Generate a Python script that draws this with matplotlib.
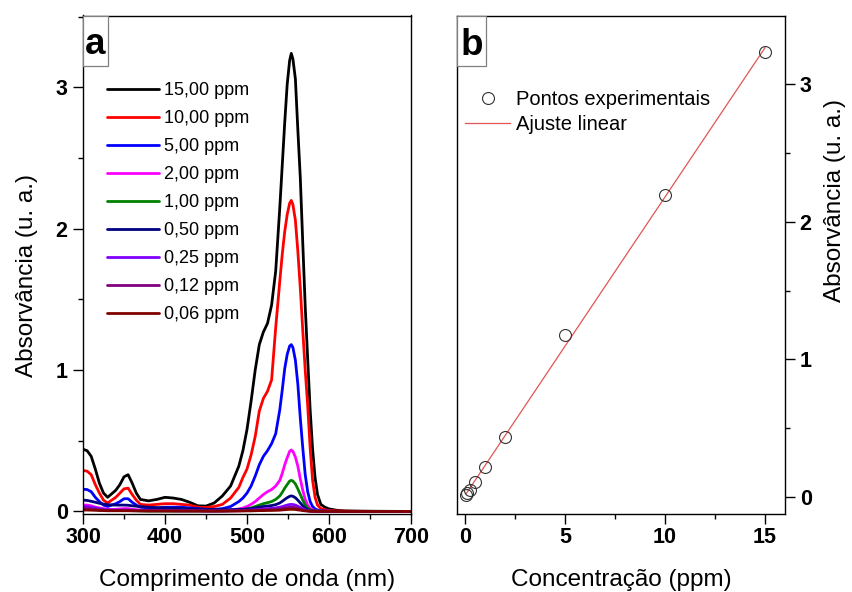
import numpy as np
import matplotlib
matplotlib.use("Agg")
import matplotlib.pyplot as plt
from matplotlib.patches import Rectangle
from matplotlib.ticker import MultipleLocator

plt.rcParams['font.family'] = ['Liberation Sans', 'DejaVu Sans']

# ---------------- data (panel a) ----------------
wavelength = [300, 305, 310, 315, 320, 325, 330, 340, 345, 350, 355, 360, 365, 370,
              380, 390, 400, 410, 420, 430, 440, 450, 460, 470, 480, 490, 495, 500,
              505, 510, 515, 520, 525, 530, 535,
              540, 543, 546, 549, 552, 554, 556, 559, 562, 565, 568, 571, 574, 577, 580, 583, 586, 590,
              595, 600, 610, 620, 640, 670, 700]

abs_15 = [0.44, 0.43, 0.39, 0.30, 0.20, 0.13, 0.10, 0.15, 0.19, 0.245, 0.26, 0.20, 0.13, 0.085,
          0.075, 0.085, 0.10, 0.095, 0.085, 0.065, 0.04, 0.038, 0.06, 0.11, 0.18, 0.32, 0.43, 0.58,
          0.78, 1.00, 1.18, 1.27, 1.33, 1.46, 1.70,
          2.15, 2.45, 2.75, 3.02, 3.19, 3.24, 3.20, 3.06, 2.70, 2.36, 1.90, 1.45, 1.08, 0.72, 0.44, 0.24, 0.12, 0.05,
          0.03, 0.018, 0.008, 0.004, 0.002, 0.001, 0.0]
abs_10 = [0.29, 0.285, 0.26, 0.19, 0.13, 0.08, 0.06, 0.10, 0.13, 0.16, 0.165, 0.12, 0.08, 0.05,
          0.045, 0.05, 0.055, 0.055, 0.05, 0.045, 0.03, 0.028, 0.035, 0.05, 0.095, 0.17, 0.24, 0.30,
          0.40, 0.53, 0.71, 0.80, 0.85, 0.93, 1.30,
          1.63, 1.82, 1.98, 2.10, 2.18, 2.20, 2.17, 2.06, 1.84, 1.58, 1.28, 1.00, 0.75, 0.45, 0.22, 0.10, 0.045, 0.02,
          0.012, 0.008, 0.004, 0.002, 0.001, 0.0, 0.0]
abs_5 = [0.157, 0.155, 0.14, 0.10, 0.07, 0.045, 0.035, 0.055, 0.07, 0.09, 0.09, 0.065, 0.045, 0.03,
         0.025, 0.025, 0.03, 0.03, 0.03, 0.025, 0.02, 0.015, 0.015, 0.02, 0.035, 0.07, 0.095, 0.13,
         0.18, 0.25, 0.33, 0.39, 0.43, 0.48, 0.55,
         0.72, 0.86, 1.01, 1.11, 1.17, 1.18, 1.16, 1.07, 0.90, 0.66, 0.45, 0.26, 0.14, 0.07, 0.035, 0.018, 0.01, 0.005,
         0.003, 0.002, 0.001, 0.0, 0.0, 0.0, 0.0]
abs_2 = [0.045, 0.045, 0.04, 0.03, 0.025, 0.02, 0.015, 0.015, 0.018, 0.02, 0.02, 0.015, 0.012, 0.01,
         0.008, 0.008, 0.008, 0.008, 0.008, 0.007, 0.006, 0.005, 0.005, 0.007, 0.01, 0.018, 0.024, 0.035,
         0.05, 0.07, 0.095, 0.12, 0.14, 0.155, 0.18,
         0.22, 0.27, 0.33, 0.38, 0.425, 0.435, 0.425, 0.385, 0.32, 0.23, 0.15, 0.085, 0.045, 0.022, 0.012, 0.006, 0.003, 0.002,
         0.001, 0.001, 0.0, 0.0, 0.0, 0.0, 0.0]
abs_1 = [0.02, 0.02, 0.018, 0.014, 0.01, 0.008, 0.006, 0.006, 0.007, 0.008, 0.008, 0.006, 0.005, 0.004,
         0.003, 0.003, 0.003, 0.003, 0.003, 0.003, 0.003, 0.003, 0.003, 0.004, 0.006, 0.01, 0.013, 0.018,
         0.025, 0.035, 0.045, 0.055, 0.062, 0.07, 0.085,
         0.11, 0.135, 0.165, 0.19, 0.215, 0.22, 0.215, 0.195, 0.16, 0.12, 0.08, 0.045, 0.024, 0.012, 0.006, 0.003, 0.002, 0.001,
         0.001, 0.0, 0.0, 0.0, 0.0, 0.0, 0.0]
abs_050 = [0.08, 0.078, 0.072, 0.065, 0.058, 0.052, 0.048, 0.045, 0.045, 0.045, 0.044, 0.04, 0.037, 0.034,
           0.03, 0.027, 0.025, 0.023, 0.021, 0.019, 0.017, 0.015, 0.014, 0.013, 0.013, 0.014, 0.015, 0.017,
           0.02, 0.025, 0.03, 0.035, 0.038, 0.042, 0.048,
           0.06, 0.072, 0.085, 0.097, 0.107, 0.11, 0.107, 0.097, 0.08, 0.06, 0.04, 0.024, 0.013, 0.007, 0.004, 0.002, 0.001, 0.001,
           0.001, 0.0, 0.0, 0.0, 0.0, 0.0, 0.0]
abs_025 = [0.035, 0.034, 0.03, 0.024, 0.018, 0.014, 0.011, 0.01, 0.01, 0.01, 0.01, 0.009, 0.008, 0.007,
           0.006, 0.006, 0.006, 0.006, 0.005, 0.005, 0.005, 0.004, 0.004, 0.004, 0.005, 0.006, 0.007, 0.008,
           0.01, 0.012, 0.015, 0.018, 0.02, 0.022, 0.025,
           0.03, 0.034, 0.04, 0.045, 0.049, 0.05, 0.049, 0.045, 0.037, 0.028, 0.019, 0.011, 0.006, 0.003, 0.002, 0.001, 0.0, 0.0,
           0.0, 0.0, 0.0, 0.0, 0.0, 0.0, 0.0]
abs_012 = [0.02, 0.02, 0.018, 0.015, 0.012, 0.01, 0.008, 0.007, 0.007, 0.007, 0.007, 0.006, 0.006, 0.005,
           0.005, 0.005, 0.005, 0.004, 0.004, 0.004, 0.004, 0.003, 0.003, 0.003, 0.004, 0.005, 0.005, 0.006,
           0.007, 0.008, 0.01, 0.011, 0.012, 0.013, 0.015,
           0.018, 0.021, 0.024, 0.027, 0.029, 0.03, 0.029, 0.027, 0.022, 0.017, 0.011, 0.007, 0.004, 0.002, 0.001, 0.001, 0.0, 0.0,
           0.0, 0.0, 0.0, 0.0, 0.0, 0.0, 0.0]
abs_006 = [0.01, 0.01, 0.009, 0.008, 0.007, 0.006, 0.005, 0.005, 0.005, 0.005, 0.005, 0.004, 0.004, 0.004,
           0.003, 0.003, 0.003, 0.003, 0.003, 0.003, 0.003, 0.003, 0.003, 0.003, 0.003, 0.003, 0.004, 0.004,
           0.004, 0.005, 0.006, 0.006, 0.007, 0.007, 0.008,
           0.009, 0.011, 0.012, 0.014, 0.015, 0.015, 0.015, 0.014, 0.011, 0.009, 0.006, 0.004, 0.003, 0.002, 0.002, 0.001, 0.001, 0.001,
           0.001, 0.001, 0.0, 0.0, 0.0, 0.0, 0.0]

series_labels = ['15,00 ppm', '10,00 ppm', '5,00 ppm', '2,00 ppm', '1,00 ppm',
                 '0,50 ppm', '0,25 ppm', '0,12 ppm', '0,06 ppm']
series_values = [abs_15, abs_10, abs_5, abs_2, abs_1, abs_050, abs_025, abs_012, abs_006]
series_colors = ['#000000', '#ff0000', '#0000ff', '#ff00ff', '#008000',
                 '#000080', '#8000ff', '#800080', '#800000']

# ---------------- data (panel b) ----------------
concentration = [0.06, 0.12, 0.25, 0.5, 1, 2, 5, 10, 15]
peak_absorbance = [0.015, 0.03, 0.05, 0.11, 0.22, 0.435, 1.18, 2.19, 3.23]

xticks_a = [300, 400, 500, 600, 700]
yticks_a = [0, 1, 2, 3]
xticks_b = [0, 5, 10, 15]
yticks_b = [0, 1, 2, 3]

# ---------------- figure ----------------
fig = plt.figure(figsize=(8.52, 5.92), dpi=100)
W, H = 852, 592
ax1 = fig.add_axes([83 / W, (H - 514) / H, 328 / W, 498.5 / H])
ax2 = fig.add_axes([457 / W, (H - 514) / H, 328 / W, 498.5 / H])

tick_fs = 15.5
label_fs = 17.5

for vals, lab, col in zip(series_values, series_labels, series_colors):
    ax1.plot(wavelength, vals, color=col, lw=2.0, label=lab,
             solid_joinstyle='round', solid_capstyle='round')

ax1.set_xlim(300, 700)
ax1.set_ylim(-0.018, 3.508)
ax1.set_xticks(xticks_a, [str(t) for t in xticks_a], fontweight='bold', fontsize=tick_fs)
ax1.set_yticks(yticks_a, [str(t) for t in yticks_a], fontweight='bold', fontsize=tick_fs)
ax1.xaxis.set_minor_locator(MultipleLocator(50))
ax1.yaxis.set_minor_locator(MultipleLocator(0.5))
ax1.tick_params(which='both', direction='out', width=1.0, top=False, right=False)
ax1.tick_params(which='major', length=7)
ax1.tick_params(which='minor', length=3.6)
ax1.tick_params(axis='y', pad=4)
ax1.tick_params(axis='x', pad=2.5)
ax1.set_xlabel('Comprimento de onda (nm)', fontsize=label_fs)
ax1.set_ylabel('Absorvância (u. a.)', fontsize=label_fs)
ax1.xaxis.set_label_coords(0.5, -0.110)
ax1.yaxis.set_label_coords(-0.136, 0.479)

leg1 = ax1.legend(loc='upper left', bbox_to_anchor=(0.074, 0.866), frameon=False,
                  fontsize=13.0, handlelength=2.85, handletextpad=0.3,
                  labelspacing=0.61, borderpad=0, borderaxespad=0)

# panel b
ax2.plot(concentration, peak_absorbance, linestyle='none', marker='o', markersize=8.6,
         markerfacecolor='none', markeredgecolor='#333333', markeredgewidth=0.8,
         label='Pontos experimentais', zorder=3)
slope, intercept = np.polyfit(concentration, peak_absorbance, 1)
fit_x = np.array([min(concentration), max(concentration)])
ax2.plot(fit_x, slope * fit_x + intercept, color='#e25555', lw=0.9, label='Ajuste linear', zorder=2)

ax2.set_xlim(-0.4, 16)
ax2.set_ylim(-0.123, 3.497)
ax2.yaxis.tick_right()
ax2.yaxis.set_label_position('right')
ax2.set_xticks(xticks_b, [str(t) for t in xticks_b], fontweight='bold', fontsize=tick_fs)
ax2.set_yticks(yticks_b, [str(t) for t in yticks_b], fontweight='bold', fontsize=tick_fs)
ax2.xaxis.set_minor_locator(MultipleLocator(2.5))
ax2.yaxis.set_minor_locator(MultipleLocator(0.5))
ax2.tick_params(which='both', direction='out', width=1.0, top=False, left=False,
                right=True, labelleft=False, labelright=True)
ax2.tick_params(which='major', length=7)
ax2.tick_params(which='minor', length=3.6)
ax2.tick_params(axis='y', pad=3.6)
ax2.tick_params(axis='x', pad=2.5)
ax2.set_xlabel('Concentração (ppm)', fontsize=label_fs)
ax2.set_ylabel('Absorvância (u. a.)', fontsize=label_fs)
ax2.xaxis.set_label_coords(0.5, -0.110)
ax2.yaxis.set_label_coords(1.119, 0.628)

leg2 = ax2.legend(loc='upper left', bbox_to_anchor=(0.024, 0.850), frameon=False,
                  fontsize=14.5, handlelength=2.25, handletextpad=0.3,
                  labelspacing=0.30, borderpad=0, borderaxespad=0)

for ax in (ax1, ax2):
    for sp in ax.spines.values():
        sp.set_linewidth(1.0)

# panel tags
for ax, tag, bw, tx, base in ((ax1, 'a', 0.077, 0.0372, 0.9228), (ax2, 'b', 0.0875, 0.046, 0.9208)):
    ax.add_patch(Rectangle((0, 0.8987), bw, 1 - 0.8987, transform=ax.transAxes,
                           facecolor='white', edgecolor='#808080', lw=0.9, zorder=5,
                           clip_on=False))
    ax.text(tx, base, tag, transform=ax.transAxes, fontsize=26.5, fontweight='bold',
            ha='center', va='baseline', zorder=6)

fig.savefig('out.png', dpi=100)
